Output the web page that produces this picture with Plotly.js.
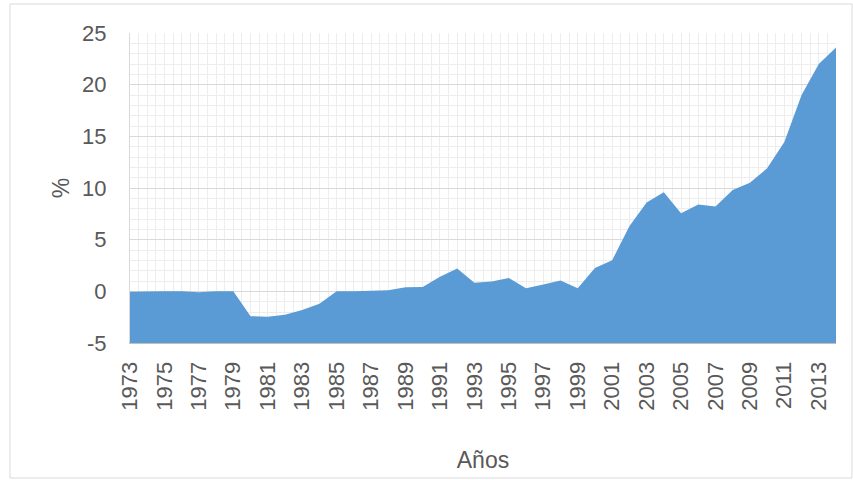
<!DOCTYPE html>
<html>
<head>
<meta charset="utf-8">
<script src="https://cdn.plot.ly/plotly-3.0.1.min.js"></script>
<style>html,body{margin:0;padding:0;background:#fff;}#chart{width:853px;height:480px;}</style>
</head>
<body>
<div id="chart"></div>
<script>
const years = [1973,1974,1975,1976,1977,1978,1979,1980,1981,1982,1983,1984,1985,1986,1987,1988,1989,1990,1991,1992,1993,1994,1995,1996,1997,1998,1999,2000,2001,2002,2003,2004,2005,2006,2007,2008,2009,2010,2011,2012,2013,2014];
const values = [-0.05,0,0,0,-0.1,0,0,-2.4,-2.45,-2.27,-1.8,-1.2,0,0,0.05,0.1,0.4,0.42,1.4,2.2,0.84,0.94,1.3,0.3,0.65,1.06,0.3,2.25,3.0,6.3,8.6,9.6,7.55,8.4,8.2,9.8,10.5,11.9,14.45,19.0,22.0,23.6];
const tickYears = [1973,1975,1977,1979,1981,1983,1985,1987,1989,1991,1993,1995,1997,1999,2001,2003,2005,2007,2009,2011,2013];
const yTicks = [-5,0,5,10,15,20,25];
const yMin = -5, yMax = 25;
const xTitle = 'Años', yTitle = '%';

const textColor = '#595959';
const fontFam = 'Liberation Sans, Arial, sans-serif';

const traces = [
  {x: years, y: years.map(() => yMin), mode: 'lines', line: {width: 0, color: 'rgba(0,0,0,0)'}, hoverinfo: 'skip', showlegend: false},
  {x: years, y: values, mode: 'lines', fill: 'tonexty', fillcolor: '#5B9BD5', line: {width: 0, color: '#5B9BD5'}, showlegend: false}
];

const layout = {
  width: 853, height: 480,
  margin: {l: 130, r: 17, t: 33, b: 137},
  paper_bgcolor: '#ffffff', plot_bgcolor: '#ffffff',
  font: {family: fontFam, color: textColor, size: 22},
  showlegend: false,
  xaxis: {
    range: [1973, 2014], tickmode: 'array', tickvals: tickYears, ticktext: tickYears.map(String),
    tickangle: -90, ticks: '', ticklabelstandoff: 9,
    showgrid: true, gridcolor: '#ededed', gridwidth: 1,
    minor: {dtick: 0.5, tick0: 1973, showgrid: true, gridcolor: '#ededed', gridwidth: 1},
    showline: true, linecolor: '#bfbfbf', linewidth: 1,
    zeroline: false,
    tickfont: {size: 22, color: textColor},
    title: {text: xTitle, font: {size: 23, color: textColor}, standoff: 42}
  },
  yaxis: {
    range: [yMin, yMax], tickmode: 'array', tickvals: yTicks, ticktext: yTicks.map(String),
    ticks: '', ticklabelstandoff: 18,
    showgrid: true, gridcolor: '#d9d9d9', gridwidth: 1,
    minor: {dtick: 1, showgrid: true, gridcolor: '#ededed', gridwidth: 1},
    showline: true, linecolor: '#d9d9d9', linewidth: 1,
    zeroline: false,
    tickfont: {size: 22, color: textColor},
    title: {text: yTitle, font: {size: 23, color: textColor}, standoff: 6}
  },
  shapes: [
    {type: 'rect', xref: 'paper', yref: 'paper', x0: (10-130)/706, x1: (852-130)/706, y0: (343-478)/310, y1: (343-4)/310,
     line: {color: '#d9d9d9', width: 1}, fillcolor: 'rgba(0,0,0,0)', layer: 'below'}
  ]
};

Plotly.newPlot('chart', traces, layout, {displayModeBar: false, staticPlot: true});
</script>
</body>
</html>
